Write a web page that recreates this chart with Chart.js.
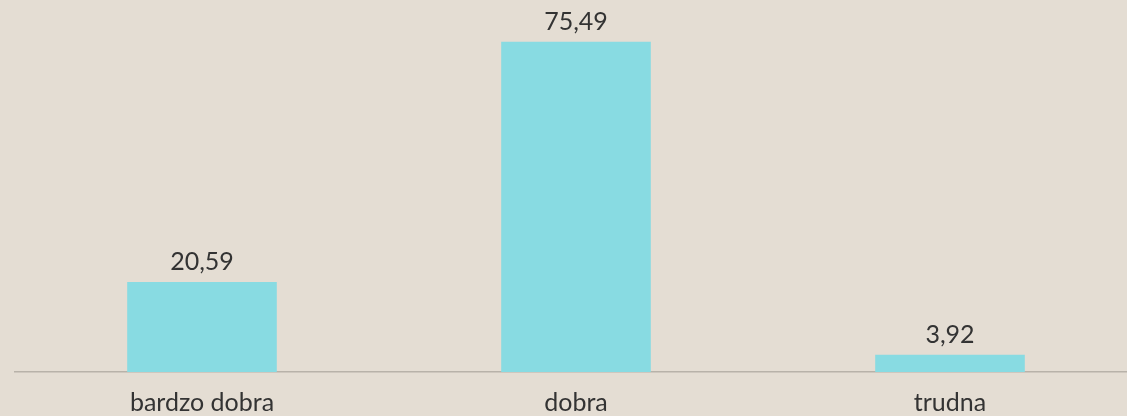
<!DOCTYPE html>
<html lang="pl">
<head>
<meta charset="UTF-8">
<title>Ocena</title>
<style>
html, body { margin: 0; padding: 0; overflow: hidden; background: #e4ddd3; }
.wrap { width: 1137px; height: 434px; }
</style>
</head>
<body>
<div class="wrap"><canvas id="myChart"></canvas></div>
<script src="https://cdn.jsdelivr.net/npm/chart.js@4"></script>
<script>
var categories = ['bardzo dobra', 'dobra', 'trudna'];
var values = [20.59, 75.49, 3.92];

var fontFamily = "'Lato', 'Noto Sans', sans-serif";

// napisy z wartościami nad słupkami
var valueLabels = {
  id: 'valueLabels',
  afterDatasetsDraw: function(chart) {
    var ctx = chart.ctx;
    var meta = chart.getDatasetMeta(0);
    ctx.save();
    ctx.font = '25px ' + fontFamily;
    ctx.fillStyle = '#333333';
    ctx.textAlign = 'center';
    ctx.textBaseline = 'middle';
    meta.data.forEach(function(bar, i) {
      ctx.fillText(values[i].toFixed(2).replace('.', ','), bar.x, bar.y - 20);
    });
    ctx.restore();
  }
};

new Chart(document.getElementById('myChart'), {
  type: 'bar',
  data: {
    labels: categories,
    datasets: [{
      data: values,
      backgroundColor: '#88dbe2',
      barPercentage: 0.4,
      categoryPercentage: 1
    }]
  },
  options: {
    responsive: true,
    maintainAspectRatio: false,
    animation: false,
    layout: { padding: { left: 15, top: 22, right: 0, bottom: 0 } },
    plugins: { legend: { display: false }, tooltip: { enabled: false } },
    scales: {
      x: {
        grid: { display: false, drawTicks: false },
        border: { color: '#b8b2a9', width: 1.5 },
        ticks: { color: '#333333', padding: 16, font: { family: fontFamily, size: 25 } }
      },
      y: { display: false, min: 0, max: 80 }
    }
  },
  plugins: [valueLabels]
});
</script>
</body>
</html>
